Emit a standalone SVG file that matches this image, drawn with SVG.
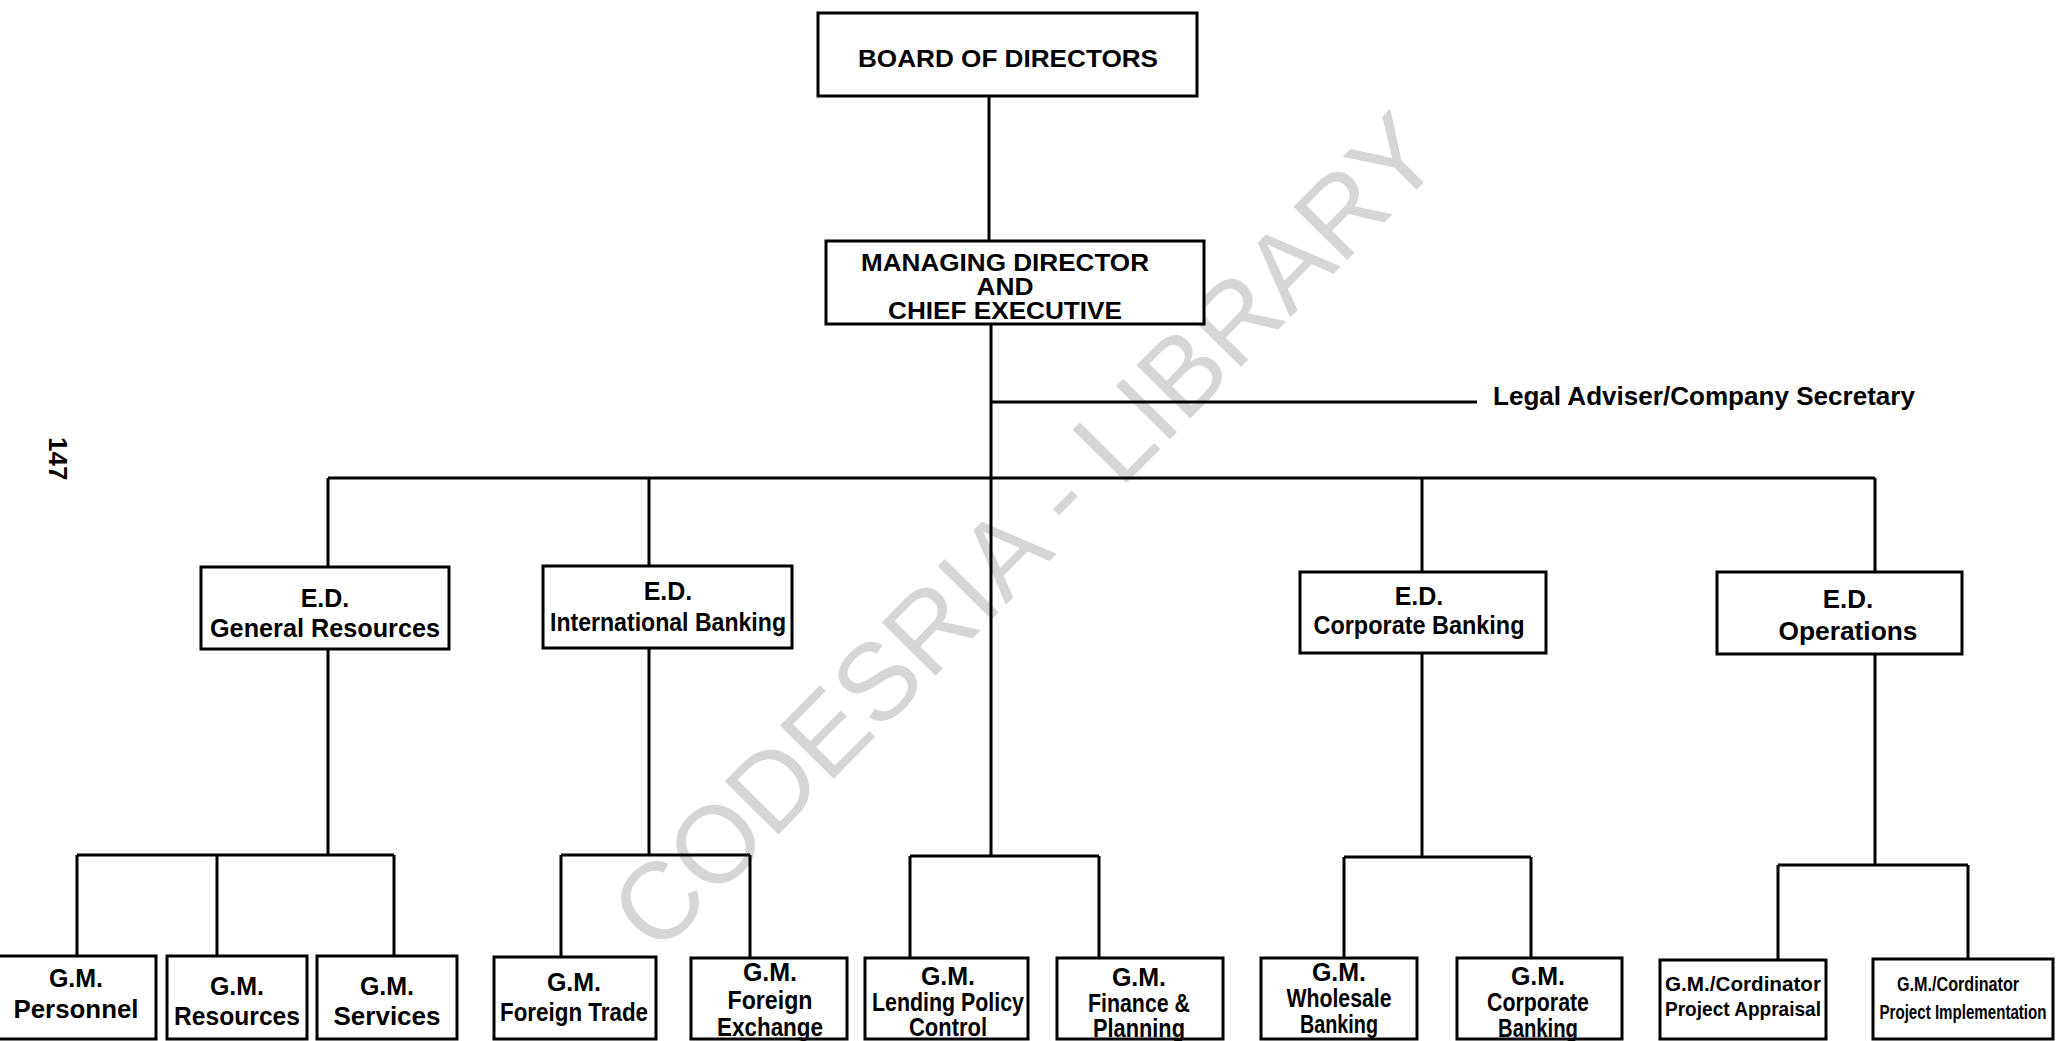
<svg xmlns="http://www.w3.org/2000/svg" width="2056" height="1041" viewBox="0 0 2056 1041">
<style>
.box{fill:#fff;stroke:#000;stroke-width:3}
.ln{fill:none;stroke:#000;stroke-width:3}
.t{font-family:"Liberation Sans",Arial,Helvetica,sans-serif;font-weight:bold;fill:#000;text-anchor:middle}
.big{font-size:26px}
.top{font-size:23.5px}
.md{font-size:25px}
.sm{font-size:21px}
.wm{font-family:"Liberation Sans",Arial,Helvetica,sans-serif;font-weight:normal;font-size:110px;fill:#d6d6d6;text-anchor:middle}
</style>
<rect width="2056" height="1041" fill="#fff"/>
<g id="watermark" transform="translate(1024,531) rotate(-45.3)">
<text class="wm" x="0" y="39" textLength="1120" lengthAdjust="spacingAndGlyphs">CODESRIA - LIBRARY</text>
</g>
<g id="page-number" transform="translate(49,437) rotate(90)">
<text x="0" y="0" font-family="Liberation Sans,Arial,sans-serif" font-weight="bold" font-size="26">147</text>
</g>
<g id="connectors">
<path class="ln" d="M989 96V241"/>
<path class="ln" d="M991 324V856"/>
<path class="ln" d="M991 402H1477"/>
<path class="ln" d="M328 478H1875"/>
<path class="ln" d="M328 478V567M649 478V566M1422 478V572M1875 478V572"/>
<path class="ln" d="M328 649V855M77 855H394M77 855V956M217 855V956M394 855V956"/>
<path class="ln" d="M649 648V855M561 855H750M561 855V957M750 855V958"/>
<path class="ln" d="M910 856H1099M910 856V958M1099 856V958"/>
<path class="ln" d="M1422 653V857M1344 857H1531M1344 857V958M1531 857V958"/>
<path class="ln" d="M1875 654V865M1778 865H1968M1778 865V960M1968 865V959"/>
</g>
<g id="board">
<rect class="box" x="818" y="13" width="379" height="83"/>
<text class="t top" x="1008" y="67" textLength="300" lengthAdjust="spacingAndGlyphs">BOARD OF DIRECTORS</text>
</g>
<g id="md">
<rect class="box" x="826" y="241" width="378" height="83"/>
<text class="t top" x="1005" y="271" textLength="288" lengthAdjust="spacingAndGlyphs">MANAGING DIRECTOR</text>
<text class="t top" x="1005" y="295" textLength="57" lengthAdjust="spacingAndGlyphs">AND</text>
<text class="t top" x="1005" y="319" textLength="234" lengthAdjust="spacingAndGlyphs">CHIEF EXECUTIVE</text>
</g>
<g id="legal">
<text class="t big" x="1493" y="405" style="text-anchor:start" textLength="422" lengthAdjust="spacingAndGlyphs">Legal Adviser/Company Secretary</text>
</g>
<g id="ed-general">
<rect class="box" x="201" y="567" width="248" height="82"/>
<text class="t md" x="325" y="607">E.D.</text>
<text class="t md" x="325" y="637" textLength="230" lengthAdjust="spacingAndGlyphs">General Resources</text>
</g>
<g id="ed-international">
<rect class="box" x="543" y="566" width="249" height="82"/>
<text class="t md" x="668" y="600">E.D.</text>
<text class="t md" x="668" y="631" textLength="236" lengthAdjust="spacingAndGlyphs">International Banking</text>
</g>
<g id="ed-corporate">
<rect class="box" x="1300" y="572" width="246" height="81"/>
<text class="t md" x="1419" y="605">E.D.</text>
<text class="t md" x="1419" y="634" textLength="211" lengthAdjust="spacingAndGlyphs">Corporate Banking</text>
</g>
<g id="ed-operations">
<rect class="box" x="1717" y="572" width="245" height="82"/>
<text class="t big" x="1848" y="608">E.D.</text>
<text class="t big" x="1848" y="640" textLength="139" lengthAdjust="spacingAndGlyphs">Operations</text>
</g>
<g id="gm-personnel">
<rect class="box" x="-4" y="956" width="160" height="83"/>
<text class="t md" x="76" y="987">G.M.</text>
<text class="t md" x="76" y="1018" textLength="125" lengthAdjust="spacingAndGlyphs">Personnel</text>
</g>
<g id="gm-resources">
<rect class="box" x="167" y="956" width="140" height="83"/>
<text class="t md" x="237" y="995">G.M.</text>
<text class="t md" x="237" y="1025" textLength="126" lengthAdjust="spacingAndGlyphs">Resources</text>
</g>
<g id="gm-services">
<rect class="box" x="317" y="956" width="140" height="83"/>
<text class="t md" x="387" y="995">G.M.</text>
<text class="t md" x="387" y="1025" textLength="107" lengthAdjust="spacingAndGlyphs">Services</text>
</g>
<g id="gm-foreign-trade">
<rect class="box" x="494" y="957" width="162" height="82"/>
<text class="t md" x="574" y="991">G.M.</text>
<text class="t md" x="574" y="1021" textLength="148" lengthAdjust="spacingAndGlyphs">Foreign Trade</text>
</g>
<g id="gm-foreign-exchange">
<rect class="box" x="691" y="958" width="156" height="81"/>
<text class="t md" x="770" y="981">G.M.</text>
<text class="t md" x="770" y="1009" textLength="85" lengthAdjust="spacingAndGlyphs">Foreign</text>
<text class="t md" x="770" y="1036" textLength="106" lengthAdjust="spacingAndGlyphs">Exchange</text>
</g>
<g id="gm-lending">
<rect class="box" x="865" y="958" width="163" height="81"/>
<text class="t md" x="948" y="985">G.M.</text>
<text class="t md" x="948" y="1011" textLength="152" lengthAdjust="spacingAndGlyphs">Lending Policy</text>
<text class="t md" x="948" y="1036" textLength="78" lengthAdjust="spacingAndGlyphs">Control</text>
</g>
<g id="gm-finance">
<rect class="box" x="1057" y="958" width="166" height="81"/>
<text class="t md" x="1139" y="986">G.M.</text>
<text class="t md" x="1139" y="1012" textLength="102" lengthAdjust="spacingAndGlyphs">Finance &amp;</text>
<text class="t md" x="1139" y="1037" textLength="92" lengthAdjust="spacingAndGlyphs">Planning</text>
</g>
<g id="gm-wholesale">
<rect class="box" x="1261" y="958" width="156" height="81"/>
<text class="t md" x="1339" y="981">G.M.</text>
<text class="t md" x="1339" y="1007" textLength="105" lengthAdjust="spacingAndGlyphs">Wholesale</text>
<text class="t md" x="1339" y="1033" textLength="78" lengthAdjust="spacingAndGlyphs">Banking</text>
</g>
<g id="gm-corporate">
<rect class="box" x="1457" y="958" width="165" height="81"/>
<text class="t md" x="1538" y="985">G.M.</text>
<text class="t md" x="1538" y="1011" textLength="102" lengthAdjust="spacingAndGlyphs">Corporate</text>
<text class="t md" x="1538" y="1037" textLength="80" lengthAdjust="spacingAndGlyphs">Banking</text>
</g>
<g id="gm-appraisal">
<rect class="box" x="1660" y="960" width="166" height="79"/>
<text class="t sm" x="1743" y="991" textLength="156" lengthAdjust="spacingAndGlyphs">G.M./Cordinator</text>
<text class="t sm" x="1743" y="1016" textLength="156" lengthAdjust="spacingAndGlyphs">Project Appraisal</text>
</g>
<g id="gm-implementation">
<rect class="box" x="1873" y="959" width="180" height="80"/>
<text class="t sm" transform="translate(1958,991) scale(0.77,1)" x="0" y="0">G.M./Cordinator</text>
<text class="t sm" transform="translate(1963,1019) scale(0.72,1)" x="0" y="0">Project Implementation</text>
</g>
</svg>
